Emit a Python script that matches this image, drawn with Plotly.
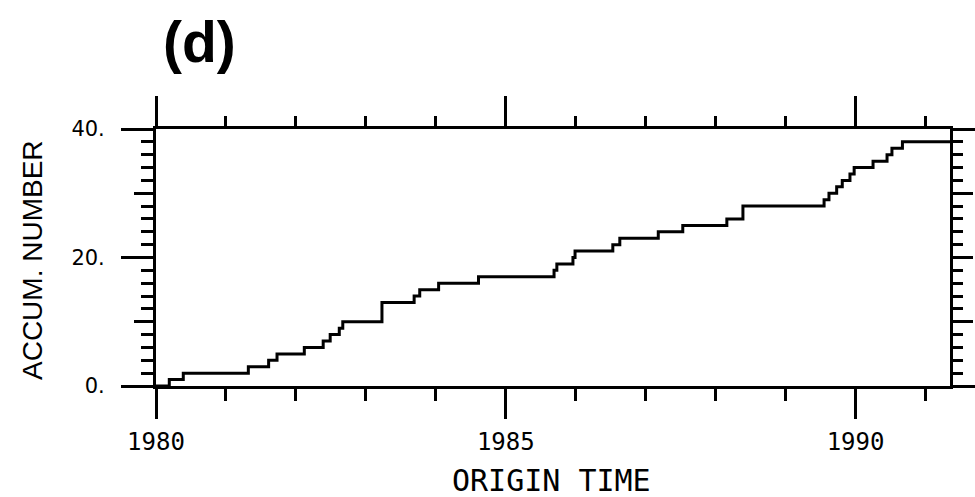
import plotly.graph_objects as go

# ---- data (step curve of accumulated number) ----
step_years = [1980.00, 1980.19, 1980.39, 1981.32, 1981.61, 1981.73, 1982.12,
              1982.39, 1982.49, 1982.62, 1982.67, 1983.23, 1983.69, 1983.77,
              1984.04, 1984.61, 1985.69, 1985.73, 1985.96, 1985.99, 1986.53,
              1986.63, 1987.18, 1987.53, 1988.16, 1988.39, 1989.55, 1989.62,
              1989.73, 1989.81, 1989.92, 1989.98, 1990.25, 1990.45, 1990.52,
              1990.67, 1991.35]
accum_count = [0, 1, 2, 3, 4, 5, 6,
               7, 8, 9, 10, 13, 14, 15,
               16, 17, 18, 19, 20, 21, 22,
               23, 24, 25, 26, 28, 29, 30,
               31, 32, 33, 34, 35, 36, 37,
               38, 38]

x_range = [1980.0, 1991.35]
y_range = [0, 40]
x_year_ticks = [1980, 1981, 1982, 1983, 1984, 1985, 1986, 1987, 1988,
                1989, 1990, 1991]
x_major_ticks = [1980, 1985, 1990]
x_major_labels = ["1980", "1985", "1990"]
y_major_ticks = [0, 20, 40]
y_major_labels = ["0.", "20.", "40."]
y_mid_ticks_left = [10, 30]
y_mid_ticks_right = [10, 20, 30]
y_end_ticks_right = [0, 40]

title_text = "(d)"
x_title = "ORIGIN TIME"
y_title = "ACCUM. NUMBER"

# ---- layout geometry (pixels) ----
W, H = 975, 497
PL, PR, PT, PB = 156, 950, 129, 386


def px_x(px):
    return (px - PL) / (PR - PL)


def px_y(py):
    return (PB - py) / (PB - PT)


BLACK = "black"
LW = 3

fig = go.Figure()
fig.add_trace(go.Scatter(x=step_years, y=accum_count, mode="lines",
                         line=dict(shape="hv", color=BLACK, width=3),
                         hoverinfo="skip", showlegend=False,
                         xaxis="x", yaxis="y", cliponaxis=False))
for xa, ya in [("x", "y2"), ("x", "y3"), ("x", "y4"),
               ("x2", "y"), ("x3", "y"), ("x4", "y")]:
    fig.add_trace(go.Scatter(x=[None], y=[None], mode="lines",
                             showlegend=False, hoverinfo="skip",
                             xaxis=xa, yaxis=ya))

tick_font_y = dict(family="DejaVu Sans", size=21, color=BLACK)
tick_font_x = dict(family="DejaVu Sans Mono", size=24, color=BLACK)

common_x = dict(range=x_range, showgrid=False, zeroline=False,
                ticks="outside", tickmode="array", tickwidth=LW,
                tickcolor=BLACK, automargin=False)
common_y = dict(range=y_range, showgrid=False, zeroline=False,
                ticks="outside", tickmode="array", tickwidth=LW,
                tickcolor=BLACK, automargin=False)

fig.update_layout(
    width=W, height=H,
    margin=dict(l=PL, r=W - PR, t=PT, b=H - PB, pad=0, autoexpand=False),
    paper_bgcolor="white", plot_bgcolor="white",
    showlegend=False,
    xaxis=dict(**common_x, showline=True, linewidth=LW, linecolor=BLACK,
               mirror=True, side="bottom", anchor="y",
               tickvals=x_year_ticks, ticklen=12, showticklabels=False),
    xaxis2=dict(**common_x, overlaying="x", side="bottom", anchor="y",
                showline=False, tickvals=x_major_ticks,
                ticktext=x_major_labels, ticklen=32, tickfont=tick_font_x,
                ticklabelstandoff=2),
    xaxis3=dict(**common_x, overlaying="x", side="top", anchor="y",
                showline=False, tickvals=x_year_ticks, ticklen=12,
                showticklabels=False),
    xaxis4=dict(**common_x, overlaying="x", side="top", anchor="y",
                showline=False, tickvals=x_major_ticks, ticklen=32,
                showticklabels=False),
    yaxis=dict(**common_y, showline=True, linewidth=LW, linecolor=BLACK,
               tickvals=y_major_ticks, ticktext=y_major_labels,
               ticklen=32,
               minor=dict(dtick=2, tick0=0, ticks="outside", ticklen=12,
                          tickwidth=LW, tickcolor=BLACK, showgrid=False),
               tickfont=tick_font_y, ticklabelstandoff=12),
    yaxis3=dict(**common_y, overlaying="y", side="left", anchor="x",
                showline=False, tickvals=y_mid_ticks_left, ticklen=21,
                showticklabels=False),
    yaxis2=dict(**common_y, overlaying="y", side="right", anchor="x",
                showline=True, linewidth=LW, linecolor=BLACK,
                tickvals=y_mid_ticks_right, ticklen=20,
                minor=dict(dtick=2, tick0=0, ticks="outside", ticklen=10,
                           tickwidth=LW, tickcolor=BLACK, showgrid=False),
                showticklabels=False),
    yaxis4=dict(**common_y, overlaying="y", side="right", anchor="x",
                showline=False, tickvals=y_end_ticks_right, ticklen=28,
                showticklabels=False),
    annotations=[
        dict(text="<b>" + title_text + "</b>", xref="paper", yref="paper",
             x=px_x(199), y=px_y(42), xanchor="center", yanchor="middle",
             showarrow=False,
             font=dict(family="Liberation Sans", size=57, color=BLACK)),
        dict(text=x_title, xref="paper", yref="paper",
             x=px_x(551), y=px_y(480), xanchor="center", yanchor="middle",
             showarrow=False,
             font=dict(family="DejaVu Sans Mono", size=30, color=BLACK)),
        dict(text=y_title, xref="paper", yref="paper",
             x=px_x(32), y=px_y(260), xanchor="center", yanchor="middle",
             textangle=-90, showarrow=False,
             font=dict(family="Liberation Sans", size=28, color=BLACK)),
    ],
)

fig.write_html("out.html")
